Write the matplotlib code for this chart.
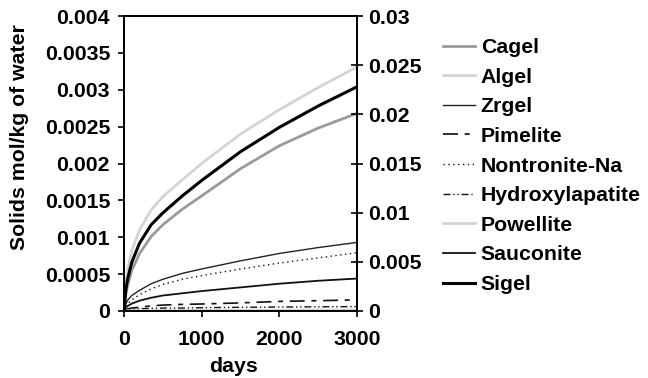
import matplotlib
matplotlib.use("Agg")
import matplotlib.pyplot as plt

plt.rcParams['font.family'] = ['Liberation Sans', 'DejaVu Sans']
plt.rcParams['font.weight'] = 'bold'

days = [0, 25, 50, 100, 200, 350, 500, 750, 1000, 1500, 2000, 2500, 3000]
cagel = [0, 0.00024, 0.00036, 0.00055, 0.00078, 0.00101, 0.00117, 0.00138, 0.00156, 0.00193, 0.00224, 0.00248, 0.00268]
algel = [0, 0.00040, 0.00058, 0.00082, 0.00110, 0.00137, 0.00155, 0.00178, 0.00200, 0.00240, 0.00273, 0.00303, 0.00331]
zrgel = [0, 0.00010, 0.00015, 0.00021, 0.00028, 0.00037, 0.00043, 0.00051, 0.00057, 0.00068, 0.00078, 0.00086, 0.00093]
pimelite = [0, 0.00002, 0.00003, 0.00004, 0.00005, 0.00007, 0.00008, 0.00009, 0.000095, 0.00011, 0.00013, 0.00014, 0.00015]
nontronite = [0, 0.00006, 0.00010, 0.00015, 0.00022, 0.00030, 0.00036, 0.00043, 0.00048, 0.00057, 0.00065, 0.00072, 0.00079]
hydroxylapatite = [0, 0.000008, 0.000012, 0.00002, 0.00003, 0.000035, 0.00004, 0.00004, 0.000045, 0.00005, 0.000054, 0.000057, 0.00006]
powellite = [0, 0.000002, 0.000003, 0.000004, 0.000005, 0.000006, 0.000007, 0.000008, 0.000009, 0.00001, 0.000011, 0.000012, 0.000013]
sauconite = [0, 0.00005, 0.00007, 0.00010, 0.00014, 0.00018, 0.00021, 0.00024, 0.00027, 0.00032, 0.00037, 0.00041, 0.00044]
sigel = [0, 0.00030, 0.00045, 0.00066, 0.00092, 0.00117, 0.00133, 0.00156, 0.00177, 0.00216, 0.00249, 0.00278, 0.00304]

left_ticks = [0, 0.0005, 0.001, 0.0015, 0.002, 0.0025, 0.003, 0.0035, 0.004]
left_labels = ['0', '0.0005', '0.001', '0.0015', '0.002', '0.0025', '0.003', '0.0035', '0.004']
right_ticks = [0, 0.005, 0.01, 0.015, 0.02, 0.025, 0.03]
right_labels = ['0', '0.005', '0.01', '0.015', '0.02', '0.025', '0.03']
x_ticks = [0, 1000, 2000, 3000]

fig = plt.figure(figsize=(6.48, 3.78), dpi=100)
W, H = 648, 378
ax = fig.add_axes([124 / W, 1 - 311 / H, (357 - 124) / W, (311 - 16) / H])

fs = 15.3
series = [
    ("Cagel", cagel, dict(color='#9a9a9a', lw=2.0, ls='-')),
    ("Algel", algel, dict(color='#d4d4d4', lw=2.0, ls='-')),
    ("Zrgel", zrgel, dict(color='#222222', lw=1.0, ls='-')),
    ("Pimelite", pimelite, dict(color='#111111', lw=1.2, dashes=(9, 4, 3, 4))),
    ("Nontronite-Na", nontronite, dict(color='#111111', lw=1.0, dashes=(1, 2.5))),
    ("Hydroxylapatite", hydroxylapatite, dict(color='#111111', lw=1.0, dashes=(5, 2, 1, 2, 1, 2))),
    ("Powellite", powellite, dict(color='#d4d4d4', lw=2.0, ls='-')),
    ("Sauconite", sauconite, dict(color='#111111', lw=1.3, ls='-')),
    ("Sigel", sigel, dict(color='#000000', lw=2.2, ls='-')),
]
handles = []
for name, vals, st in series:
    h, = ax.plot(days, vals, label=name, **st)
    handles.append(h)

ax.set_xlim(0, 3000)
ax.set_ylim(0, 0.004)
ax.set_xticks(x_ticks)
ax.set_xticklabels([str(t) for t in x_ticks], fontsize=fs, fontweight='bold')
ax.set_yticks(left_ticks)
ax.set_yticklabels(left_labels, fontsize=fs, fontweight='bold')
ax.tick_params(axis='y', direction='out', length=4.5, width=1.2, pad=5.5)
ax.tick_params(axis='x', direction='out', length=4.5, width=1.2, pad=9)
for s in ax.spines.values():
    s.set_linewidth(1.3)

ax2 = ax.twinx()
ax2.set_ylim(0, 0.03)
ax2.set_yticks(right_ticks)
ax2.set_yticklabels(right_labels, fontsize=fs, fontweight='bold')
ax2.tick_params(axis='y', direction='inout', length=8, width=1.2, pad=4)
for s in ax2.spines.values():
    s.set_linewidth(1.3)

fig.text(20 / W, 1 - 137 / H, "Solids mol/kg of water", rotation=90,
         ha='center', va='center', fontsize=fs, fontweight='bold')
fig.text(233 / W, 1 - 366 / H, "days", ha='center', va='center',
         fontsize=fs, fontweight='bold')

leg = fig.legend(handles=handles, loc='upper left',
                 bbox_to_anchor=(443 / W, 1 - 38 / H),
                 frameon=False, fontsize=fs, handlelength=1.5,
                 handletextpad=0.28, labelspacing=0.5,
                 borderpad=0, borderaxespad=0)
for t in leg.get_texts():
    t.set_fontweight('bold')

fig.savefig("out.png", dpi=100)
